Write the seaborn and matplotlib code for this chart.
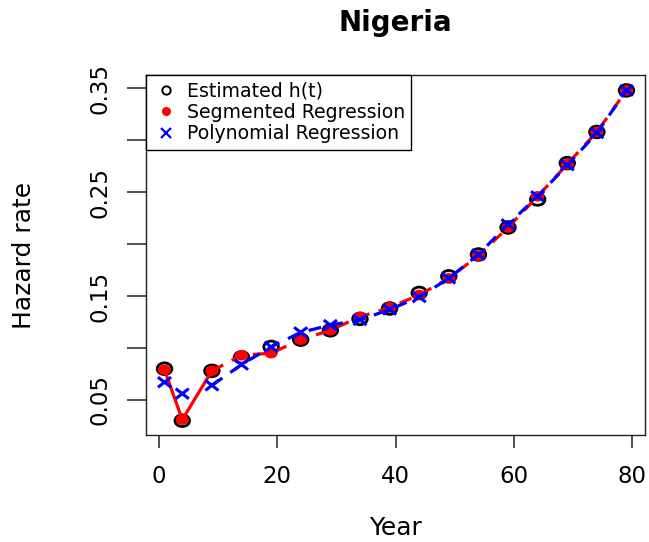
import numpy as np
import pandas as pd
import matplotlib
matplotlib.use("Agg")
import matplotlib.pyplot as plt
from matplotlib.path import Path
from matplotlib.markers import MarkerStyle
from matplotlib.lines import Line2D
import seaborn as sns

# Hazard rates for Nigeria by year
years = [1, 4, 9, 14, 19, 24, 29, 34, 39, 44, 49, 54, 59, 64, 69, 74, 79]
estimated = [0.080, 0.030, 0.078, 0.091, 0.101, 0.108, 0.117, 0.128, 0.138,
             0.153, 0.169, 0.190, 0.216, 0.243, 0.278, 0.308, 0.348]
segmented = [0.079, 0.031, 0.078, 0.093, 0.095, 0.108, 0.117, 0.130, 0.139,
             0.151, 0.167, 0.189, 0.216, 0.246, 0.277, 0.308, 0.348]
polynomial = [0.067, 0.056, 0.064, 0.084, 0.101, 0.115, 0.122, 0.127, 0.137,
              0.149, 0.167, 0.190, 0.219, 0.246, 0.276, 0.307, 0.348]
x_ticks = [0, 20, 40, 60, 80]
y_ticks = [0.05, 0.10, 0.15, 0.20, 0.25, 0.30, 0.35]
y_tick_labels = ["0.05", "", "0.15", "", "0.25", "", "0.35"]

df = pd.DataFrame({"year": years, "est": estimated, "seg": segmented, "poly": polynomial})
first = df[df["year"] <= 9]
rest = df[df["year"] >= 9]

sns.set_theme(style="white")
plt.rcParams["font.family"] = ["DejaVu Sans"]
plt.rcParams.update({"text.color": "black", "axes.labelcolor": "black",
                     "xtick.color": "black", "ytick.color": "black"})

fig = plt.figure(figsize=(6.49, 5.42), dpi=100)
ax = fig.add_axes([0.2250, 0.1974, 0.7688, 0.6642])

# slightly wide markers
ell = Path.unit_circle()
ell = Path(ell.vertices * np.array([1.25, 1.0]), ell.codes)
cross = Path(np.array([[-1.3, -1], [1.3, 1], [-1.3, 1], [1.3, -1]]),
             [Path.MOVETO, Path.LINETO, Path.MOVETO, Path.LINETO])

red = "#FF0000"
blue = "#0000FF"

sns.scatterplot(data=df, x="year", y="est", marker=MarkerStyle(ell), s=10.5 ** 2,
                facecolor="none", edgecolor="black", linewidth=2.0, ax=ax, zorder=2)

sns.lineplot(data=first, x="year", y="seg", color=red, lw=2.3, ax=ax, zorder=3)
sns.lineplot(data=rest, x="year", y="seg", color=red, lw=2.3, ax=ax, zorder=3,
             linestyle=(0, (4, 3)))
sns.scatterplot(data=df, x="year", y="seg", marker=MarkerStyle(ell), s=9.5 ** 2,
                color=red, edgecolor="none", linewidth=0, ax=ax, zorder=4)

sns.lineplot(data=rest, x="year", y="poly", color=blue, lw=2.3, ax=ax, zorder=5,
             linestyle=(0, (4, 3)))
sns.scatterplot(data=df, x="year", y="poly", marker=MarkerStyle(cross), s=9.5 ** 2,
                facecolor="none", edgecolor=blue, linewidth=2.2, ax=ax, zorder=6)

ax.set_xlim(-2.12, 82.12)
ax.set_ylim(0.0162, 0.3628)
ax.set_xticks(x_ticks)
ax.set_xticklabels([str(t) for t in x_ticks])
ax.set_yticks(y_ticks)
ax.set_yticklabels(y_tick_labels)

for s in ax.spines.values():
    s.set_visible(True)
    s.set_color("#222222")
    s.set_linewidth(1.0)

ax.tick_params(axis="x", direction="out", length=9.4, width=1.1, color="#222222",
               pad=12, labelsize=16.5, bottom=True, labelcolor="black")
ax.tick_params(axis="y", direction="out", length=13.5, width=1.1, color="#222222",
               pad=11, labelsize=16.5, left=True, labelrotation=90, labelcolor="black")
for lbl in ax.get_yticklabels():
    lbl.set_va("center")

ax.set_xlabel("Year", fontsize=18, color="black")
ax.set_ylabel("Hazard rate", fontsize=18, color="black")
ax.xaxis.set_label_coords(0.5, -0.225)
ax.yaxis.set_label_coords(-0.22, 0.5)
ax.set_title("Nigeria", fontsize=20, fontweight="bold", y=1.122, pad=0, color="black")

handles = [
    Line2D([], [], linestyle="none", marker="o", markersize=6, markerfacecolor="none",
           markeredgecolor="black", markeredgewidth=1.4),
    Line2D([], [], linestyle="none", marker="o", markersize=5.5, markerfacecolor=red,
           markeredgecolor=red),
    Line2D([], [], linestyle="none", marker="x", markersize=6.5, markeredgecolor=blue,
           markeredgewidth=1.6),
]
leg = ax.legend(handles, ["Estimated h(t)", "Segmented Regression", "Polynomial Regression"],
                loc="upper left", bbox_to_anchor=(0, 1), borderaxespad=0, fontsize=13.6,
                frameon=True, fancybox=False, framealpha=1, edgecolor="black",
                handlelength=1.4, handletextpad=0.4, labelspacing=0.12, borderpad=0.35)
leg.get_frame().set_linewidth(1.0)
for t in leg.get_texts():
    t.set_color("black")

fig.savefig("out.png", dpi=100)
